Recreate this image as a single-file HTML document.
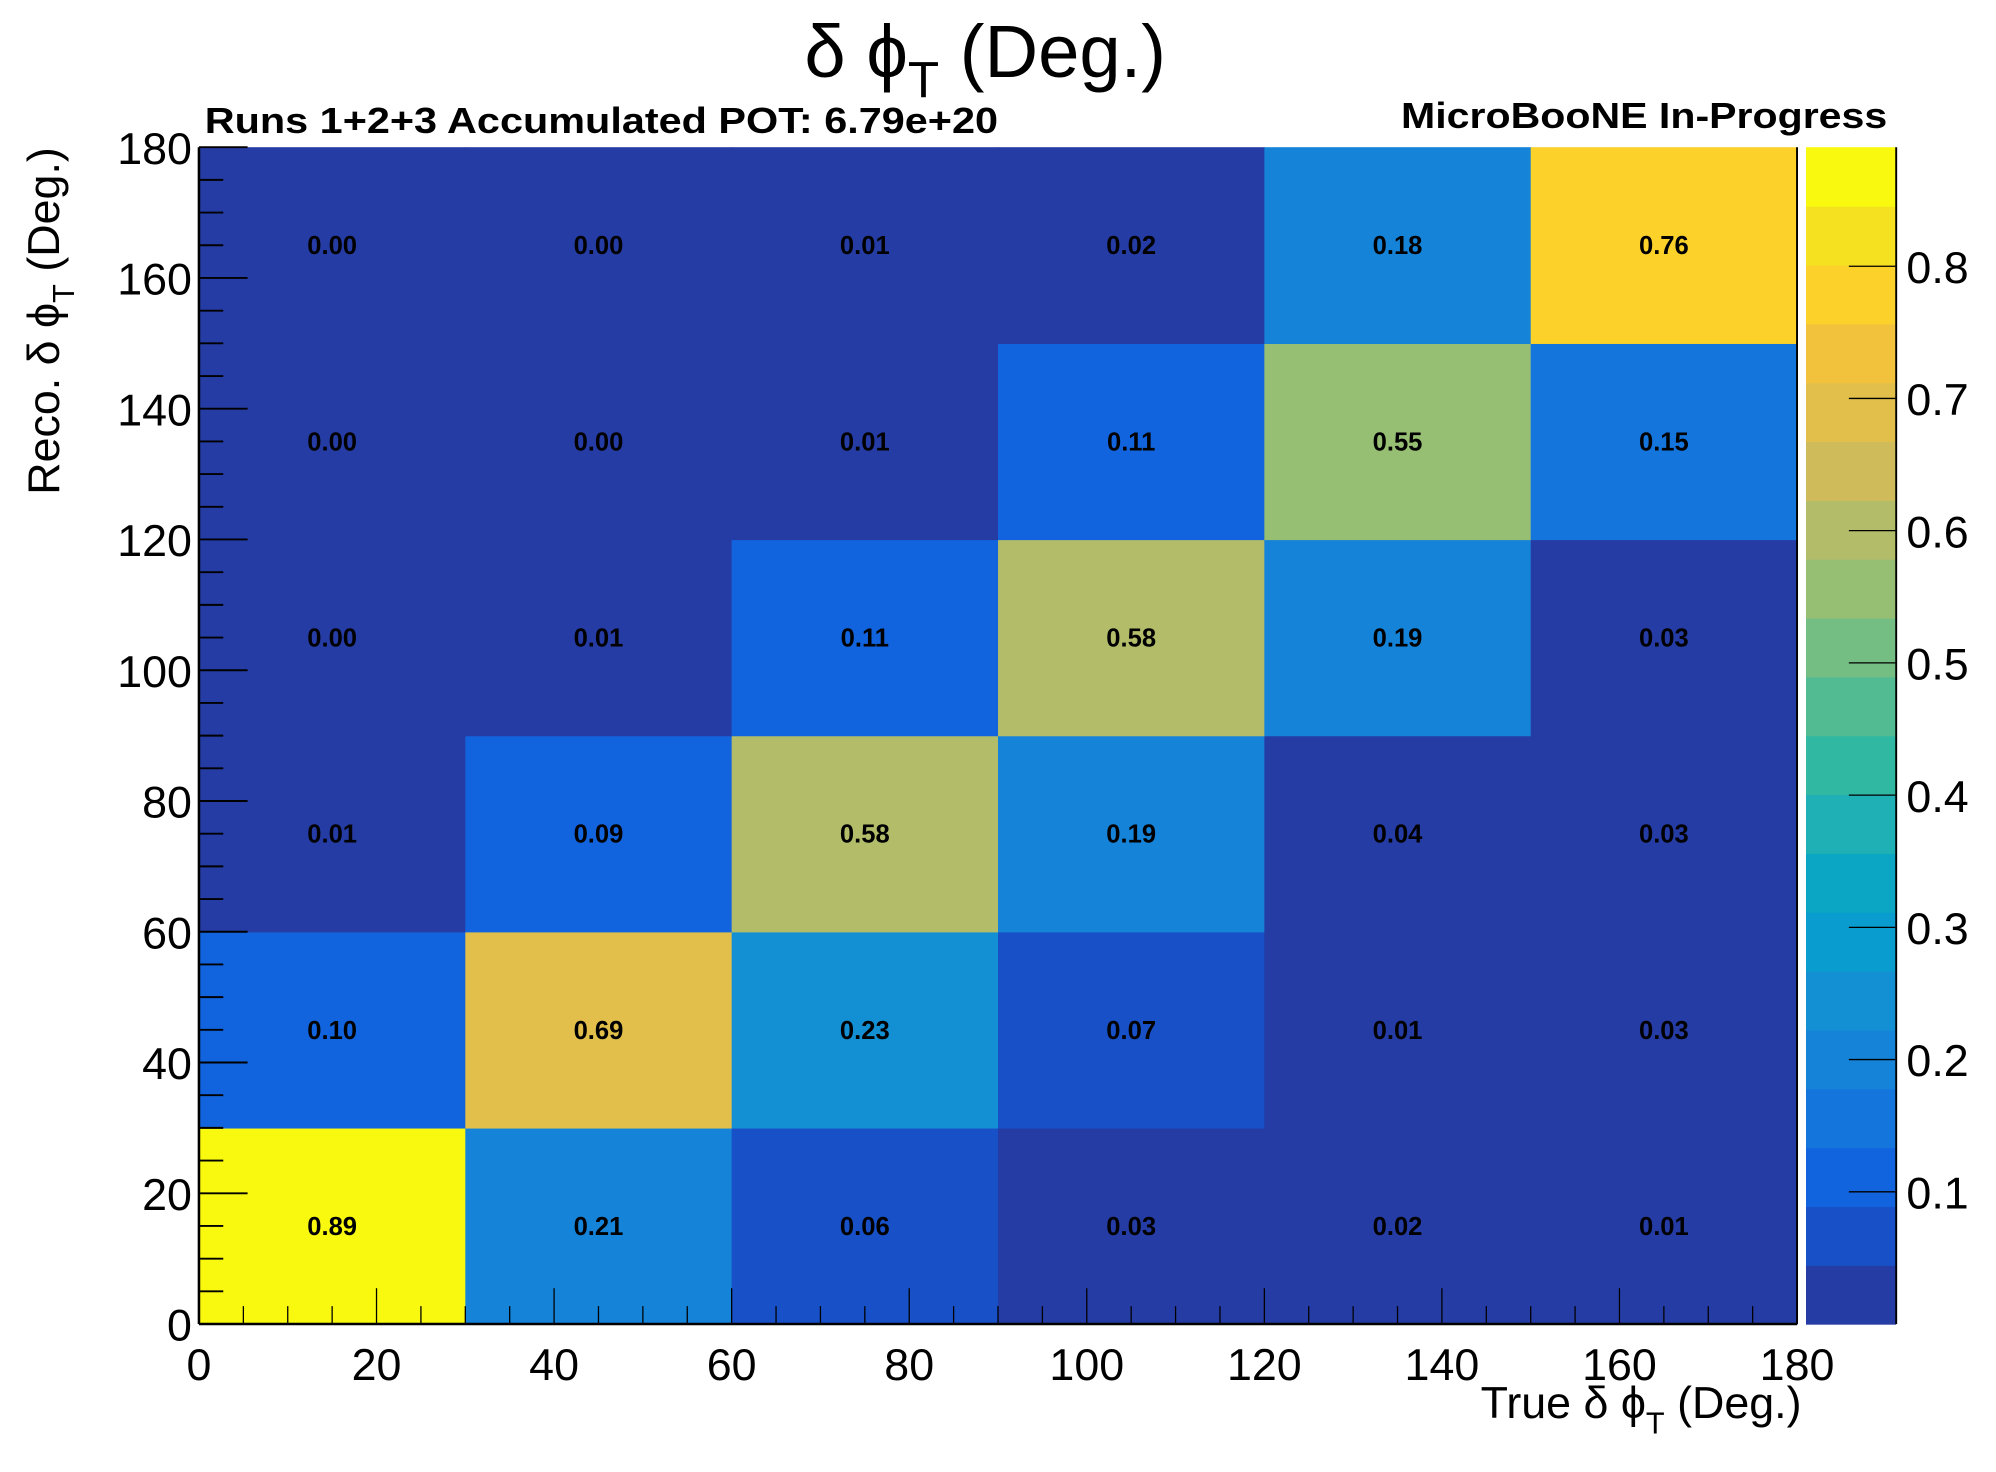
<!DOCTYPE html>
<html><head><meta charset="utf-8"><style>
html,body{margin:0;padding:0;background:#fff;}
svg{display:block;font-family:"Liberation Sans",sans-serif;}
</style></head><body>
<svg id="chart" width="1996" height="1472" viewBox="0 0 1560 1150" preserveAspectRatio="none" xmlns="http://www.w3.org/2000/svg">
<g id="cells"></g>
<g id="labels"></g>
<g id="cbar"></g>
<g id="axes"></g>
<text x="770" y="60" font-size="58" text-anchor="middle">δ ϕ<tspan font-size="40" dy="16">T</tspan><tspan dy="-16"> (Deg.)</tspan></text>
<text x="160" y="104" font-size="28" font-weight="bold" textLength="620" lengthAdjust="spacingAndGlyphs">Runs 1+2+3 Accumulated POT: 6.79e+20</text>
<text x="1475" y="100" font-size="28" font-weight="bold" text-anchor="end" textLength="380" lengthAdjust="spacingAndGlyphs">MicroBooNE In-Progress</text>
<text x="1408" y="1108" font-size="35" text-anchor="end">True  δ ϕ<tspan font-size="24" dy="12">T</tspan><tspan dy="-12"> (Deg.)</tspan></text>
<text transform="translate(46,115) rotate(-90)" font-size="35" text-anchor="end">Reco. δ ϕ<tspan font-size="24" dy="12">T</tspan><tspan dy="-12"> (Deg.)</tspan></text>
</svg>
<script>
const xEdges = [0,30,60,90,120,150,180];
const yEdges = [0,30,60,90,120,150,180];
const row0 = [0.89,0.21,0.06,0.03,0.02,0.01];
const row1 = [0.10,0.69,0.23,0.07,0.01,0.03];
const row2 = [0.01,0.09,0.58,0.19,0.04,0.03];
const row3 = [0.00,0.01,0.11,0.58,0.19,0.03];
const row4 = [0.00,0.00,0.01,0.11,0.55,0.15];
const row5 = [0.00,0.00,0.01,0.02,0.18,0.76];
const xTicks = [0,20,40,60,80,100,120,140,160,180];
const yTicks = [0,20,40,60,80,100,120,140,160,180];
const zTicks = [0.1,0.2,0.3,0.4,0.5,0.6,0.7,0.8];
const zMin = 0, zMax = 0.89;
const palette = ["#263ca5","#1850c8","#1264de","#1475dc","#1583d8","#1390d4","#099ccf","#0ca6c5","#1eb0b5","#31b8a3","#52bb92","#74bd83","#96bf74","#b3bd69","#d0bb5a","#e1bf4a","#f2c23c","#fbd12a","#f6e121","#f9f90f"];

const rows = [row0,row1,row2,row3,row4,row5];
const NS = "http://www.w3.org/2000/svg";
const L=155.5,R=1404.5,T=115,B=1034.4;
const xs = v => L + (v-0)/180*(R-L);
const ys = v => B - (v-0)/180*(B-T);
const CL=1411.5,CR=1482;
const zs = v => B - (v-zMin)/(zMax-zMin)*(B-T);
function col(v){let i=Math.floor((v-zMin)/(zMax-zMin)*palette.length);return palette[Math.max(0,Math.min(palette.length-1,i))];}
function mk(tag,attrs,parent){const e=document.createElementNS(NS,tag);for(const k in attrs)e.setAttribute(k,attrs[k]);parent.appendChild(e);return e;}
const cells=document.getElementById('cells'),labels=document.getElementById('labels'),cbar=document.getElementById('cbar'),axes=document.getElementById('axes');
rows.forEach((r,j)=>r.forEach((v,i)=>{
  const x0=xs(xEdges[i]),x1=xs(xEdges[i+1]),y0=ys(yEdges[j+1]),y1=ys(yEdges[j]);
  const rc=mk('rect',{x:x0,y:y0,width:x1-x0+0.5,height:y1-y0+0.5,fill:col(v)},cells);
  
  
  const t=mk('text',{x:(x0+x1)/2,y:(y0+y1)/2+7,'font-size':20,'font-weight':'bold','text-anchor':'middle'},labels);
  t.textContent=v.toFixed(2);
  
  
}));
palette.forEach((c,k)=>{
  const v0=zMin+k*(zMax-zMin)/palette.length,v1=zMin+(k+1)*(zMax-zMin)/palette.length;
  const rc=mk('rect',{x:CL,y:zs(v1),width:CR-CL,height:zs(v0)-zs(v1)+0.5,fill:c},cbar);
  
  
});
mk('line',{x1:CR,y1:T,x2:CR,y2:B,stroke:'#000','stroke-width':1.5},cbar);
zTicks.forEach(v=>{
  mk('line',{x1:CR-37,y1:zs(v),x2:CR,y2:zs(v),stroke:'#000','stroke-width':1},cbar);
  const t=mk('text',{x:1490,y:zs(v)+13,'font-size':35},cbar);
  t.textContent=v.toFixed(1);
  
  
});
mk('line',{x1:L,y1:B,x2:R,y2:B,stroke:'#000','stroke-width':2},axes);
mk('line',{x1:L,y1:T,x2:L,y2:B,stroke:'#000','stroke-width':2},axes);
mk('line',{x1:R,y1:T,x2:R,y2:B,stroke:'#000','stroke-width':1.5},axes);
for(let v=0;v<=180;v+=5){
  const maj=v%20===0;
  mk('line',{x1:xs(v),y1:B,x2:xs(v),y2:B-(maj?28:14),stroke:'#000','stroke-width':1},axes);
  mk('line',{x1:L,y1:ys(v),x2:L+(maj?38:19),y2:ys(v),stroke:'#000','stroke-width':1.5},axes);
}
xTicks.forEach(v=>{const t=mk('text',{x:xs(v),y:1078,'font-size':35,'text-anchor':'middle'},axes);t.textContent=v;
  
  });
yTicks.forEach(v=>{const t=mk('text',{x:150,y:ys(v)+13,'font-size':35,'text-anchor':'end'},axes);t.textContent=v;
  
  });
</script>
</body></html>
